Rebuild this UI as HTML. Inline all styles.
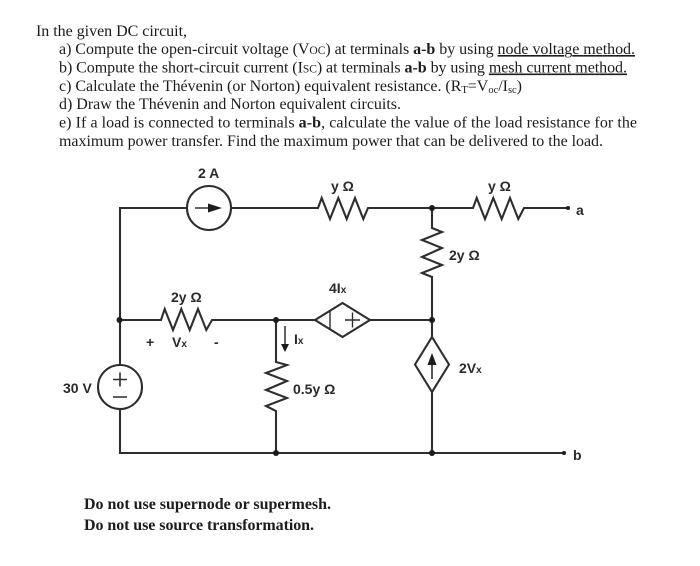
<!DOCTYPE html>
<html><head><meta charset="utf-8"><style>
html,body{margin:0;padding:0;background:#fff;width:700px;height:566px;overflow:hidden}
svg{display:block}
.t{font-family:"Liberation Serif",serif;font-size:16px;fill:#1c1c1c}
.bt{font-family:"Liberation Serif",serif;font-size:16px;font-weight:bold;fill:#1c1c1c}
.l{font-family:"Liberation Sans",sans-serif;font-size:14px;font-weight:bold;fill:#2a2a2a}
.w{fill:none;stroke:#2e2e2e;stroke-width:2.1;stroke-linejoin:miter}
.j{fill:#1c1c1c}
</style></head><body>
<svg width="700" height="566" viewBox="0 0 700 566" xmlns="http://www.w3.org/2000/svg">
<defs><filter id="b" x="-2%" y="-2%" width="104%" height="104%"><feGaussianBlur stdDeviation="0.35"/></filter></defs>
<rect width="700" height="566" fill="#fff"/>
<g filter="url(#b)">
<text class="t" x="36" y="36" textLength="151">In the given DC circuit,</text>
<text class="t" x="59" y="54" textLength="576">a) Compute the open-circuit voltage (V<tspan font-size="11.5">OC</tspan>) at terminals <tspan font-weight="bold">a-b</tspan> by using <tspan text-decoration="underline">node voltage method.</tspan></text>
<text class="t" x="59" y="72.5" textLength="568">b) Compute the short-circuit current (I<tspan font-size="11.5">SC</tspan>) at terminals <tspan font-weight="bold">a-b</tspan> by using <tspan text-decoration="underline">mesh current method.</tspan></text>
<text class="t" x="59" y="91" textLength="463">c) Calculate the Thévenin (or Norton) equivalent resistance. (R<tspan font-size="10.5" dy="2">T</tspan><tspan dy="-2">=V</tspan><tspan font-size="10.5" dy="2">oc</tspan><tspan dy="-2">/I</tspan><tspan font-size="10.5" dy="2">sc</tspan><tspan dy="-2">)</tspan></text>
<text class="t" x="59" y="109" textLength="342">d) Draw the Thévenin and Norton equivalent circuits.</text>
<text class="t" x="59" y="127.5" textLength="578">e) If a load is connected to terminals <tspan font-weight="bold">a-b</tspan>, calculate the value of the load resistance for the</text>
<text class="t" x="59" y="146" textLength="544">maximum power transfer. Find the maximum power that can be delivered to the load.</text>

<path class="w" d="M120 365V320M120 409V453H564M120 320V208H187M231 208H318L321.7 198L330 219L338.3 198L346.7 219L355 198L363.3 219L368 208H473L476.7 198L485 219L493.3 198L501.7 219L510 198L518.3 219L524 208H568"/>
<path class="w" d="M432 208V228L442 232L422 240L442 248L422 257L442 265L422 273L432 277V337M432 392V453"/>
<path class="w" d="M120 320H161L164.7 309L173 330L181.3 309L189.7 330L198 309L206.3 330L212 320H315M370 320H432"/>
<path class="w" d="M276 320V362L287 365L266 373L287 381L266 390L287 398L266 406L276 411V453"/>
<circle class="w" cx="209" cy="208" r="22"/>
<path d="M195 208H210" stroke="#2e2e2e" stroke-width="1.5" fill="none"/>
<path d="M208 203.500L222 208L208 212.500Z" fill="#1c1c1c"/>
<circle class="w" cx="120" cy="387" r="22"/>
<path d="M113 379.500H127M120 372.500V386.500M113 397H127" stroke="#2e2e2e" stroke-width="1.6" fill="none"/>
<path class="w" d="M315 320L342.500 303L370 320L342.500 337Z"/>
<path d="M330 311V329M345 320H360M352.500 312.500V327.500" stroke="#2e2e2e" stroke-width="1.4" fill="none"/>
<path class="w" d="M432 337L449 364.500L432 392L415 364.500Z"/>
<path d="M432 360V379" stroke="#2e2e2e" stroke-width="1.6" fill="none"/>
<path d="M432 353L436.500 365H427.500Z" fill="#1c1c1c"/>
<path d="M285 326V346" stroke="#2e2e2e" stroke-width="1.5" fill="none"/>
<path d="M281 344H289L285 352Z" fill="#1c1c1c"/>
<circle class="j" cx="119.500" cy="320" r="3"/>
<circle class="j" cx="276" cy="320" r="3"/>
<circle class="j" cx="432" cy="208" r="3"/>
<circle class="j" cx="432" cy="320" r="3"/>
<circle class="j" cx="276" cy="453" r="3"/>
<circle class="j" cx="432" cy="453" r="3"/>
<circle class="j" cx="568" cy="208" r="2"/>
<circle class="j" cx="564" cy="453" r="2"/>

<text class="l" x="198" y="178">2 A</text>
<text class="l" x="331" y="191">y Ω</text>
<text class="l" x="488" y="191">y Ω</text>
<text class="l" x="576" y="215" font-size="13">a</text>
<text class="l" x="449" y="260">2y Ω</text>
<text class="l" x="329" y="293">4I<tspan font-size="10">x</tspan></text>
<text class="l" x="171" y="302">2y Ω</text>
<text class="l" x="146" y="347">+</text>
<text class="l" x="172" y="347">V<tspan font-size="10">x</tspan></text>
<text class="l" x="214" y="347">-</text>
<text class="l" x="294" y="344">I<tspan font-size="10">x</tspan></text>
<text class="l" x="63" y="393">30 V</text>
<text class="l" x="293" y="394">0.5y Ω</text>
<text class="l" x="459" y="373">2V<tspan font-size="10">x</tspan></text>
<text class="l" x="573" y="460">b</text>

<text class="bt" x="84" y="509" textLength="247">Do not use supernode or supermesh.</text>
<text class="bt" x="84" y="530" textLength="230">Do not use source transformation.</text>
</g>
</svg>
</body></html>
